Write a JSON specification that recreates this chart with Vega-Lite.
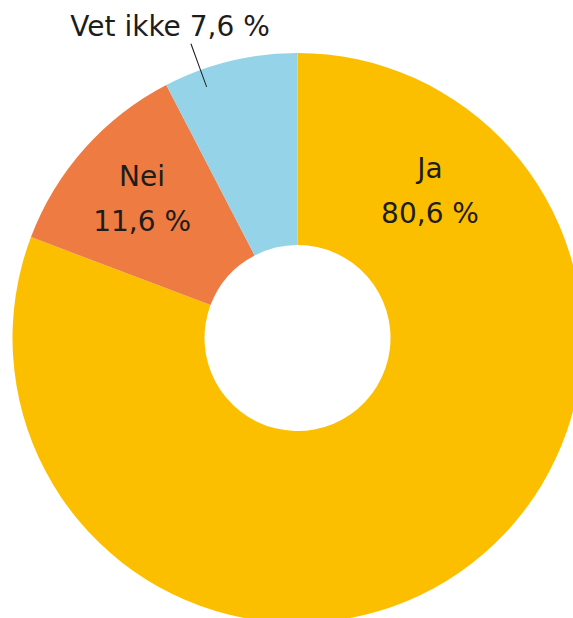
{
  "$schema": "https://vega.github.io/schema/vega-lite/v6.json",
  "width": 595,
  "height": 676,
  "autosize": "none",
  "padding": 0,
  "background": "white",
  "config": {"view": {"stroke": null}},
  "data": {
    "values": [
      {"svar": "Ja", "andel": 80.6, "rekkefolge": 1},
      {"svar": "Nei", "andel": 11.6, "rekkefolge": 2},
      {"svar": "Vet ikke", "andel": 7.6, "rekkefolge": 3}
    ]
  },
  "transform": [
    {"calculate": "replace(format(datum.andel, '.1f'), '.', ',') + ' %'", "as": "prosent"}
  ],
  "layer": [
    {
      "mark": {"type": "arc", "outerRadius": 285, "innerRadius": 93},
      "encoding": {
        "theta": {"field": "andel", "type": "quantitative", "stack": true},
        "order": {"field": "rekkefolge", "type": "quantitative"},
        "color": {
          "field": "svar",
          "type": "nominal",
          "scale": {"domain": ["Ja", "Nei", "Vet ikke"], "range": ["#FCBF00", "#EE7B42", "#94D3E8"]},
          "legend": null
        }
      }
    },
    {
      "transform": [{"filter": "datum.svar === 'Ja'"}, {"calculate": "[datum.svar, datum.prosent]", "as": "etikett"}],
      "mark": {"type": "text", "theta": 0.6678, "radius": 214, "font": "DejaVu Sans", "fontSize": 28, "lineHeight": 45, "align": "center", "baseline": "middle", "color": "#1d1d1b"},
      "encoding": {"text": {"field": "etikett"}}
    },
    {
      "transform": [{"filter": "datum.svar === 'Nei'"}, {"calculate": "[datum.svar, datum.prosent]", "as": "etikett"}],
      "mark": {"type": "text", "theta": -0.7711, "radius": 223, "font": "DejaVu Sans", "fontSize": 28, "lineHeight": 45, "align": "center", "baseline": "middle", "color": "#1d1d1b"},
      "encoding": {"text": {"field": "etikett"}}
    },
    {
      "transform": [{"filter": "datum.svar === 'Vet ikke'"}, {"calculate": "datum.svar + ' ' + datum.prosent", "as": "etikett"}],
      "mark": {"type": "text", "theta": -0.3903, "radius": 335, "font": "DejaVu Sans", "fontSize": 28, "align": "center", "baseline": "middle", "color": "#1d1d1b"},
      "encoding": {"text": {"field": "etikett"}}
    },
    {
      "transform": [{"filter": "datum.svar === 'Vet ikke'"}],
      "mark": {"type": "arc", "theta": -0.3491, "theta2": -0.3456, "innerRadius": 267, "outerRadius": 313, "color": "#1d1d1b"},
      "encoding": {}
    }
  ]
}
